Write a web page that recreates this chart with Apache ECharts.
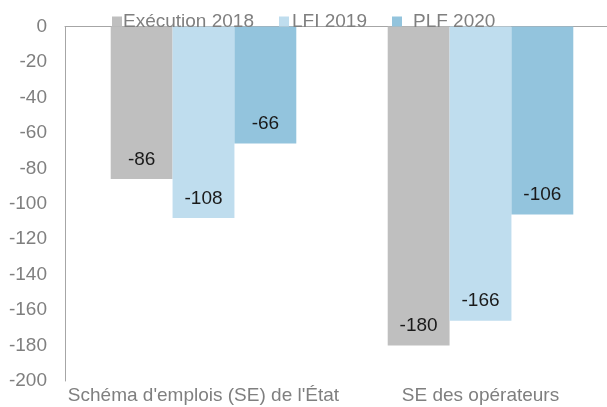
<!DOCTYPE html>
<html>
<head>
<meta charset="utf-8">
<script src="https://cdn.jsdelivr.net/npm/echarts@6/dist/echarts.min.js"></script>
<style>
  html, body { margin: 0; padding: 0; background: #fff; overflow: hidden; }
  /* the plot area runs past the right edge of the original picture */
  #chart { width: 630px; height: 407px; }
</style>
</head>
<body>
<div id="chart"></div>
<script>
const categories = ["Schéma d'emplois (SE) de l'État", 'SE des opérateurs']
const seriesNames = ['Exécution 2018', 'LFI 2019', 'PLF 2020']
const execution2018 = [-86, -180]
const lfi2019 = [-108, -166]
const plf2020 = [-66, -106]
const colors = ['#bfbfbf', '#bfddee', '#93c4dd']

const font = 'Liberation Sans, Arial, sans-serif'

const chart = echarts.init(document.getElementById('chart'))

const makeSeries = (name, data, i) => ({
  name: name,
  type: 'bar',
  data: data,
  barGap: '0%',
  barCategoryGap: '33%',
  itemStyle: {color: colors[i]},
  label: {
    show: true,
    position: 'insideBottom',
    distance: 10,
    color: '#1a1a1a',
    fontFamily: font,
    fontSize: 19,
  },
})

// text offsets from the legend squares differ per item in the original
const legendPad = [-4, -2, 6]

chart.setOption({
  animation: false,
  legend: {
    top: 12,
    left: 112,
    padding: 0,
    itemWidth: 10,
    itemHeight: 10,
    itemGap: 25,
    icon: 'rect',
    textStyle: {color: '#7f7f7f', fontFamily: font, fontSize: 19},
    data: seriesNames.map((n, i) => ({name: n, textStyle: {padding: [0, 0, 0, legendPad[i]]}})),
  },
  grid: {
    top: 26.5,
    bottom: 26,
    left: 65,
    right: 11,
  },
  xAxis: [
    {
      type: 'category',
      data: categories,
      position: 'bottom',
      axisLine: {show: false},
      axisTick: {show: false},
      axisLabel: {interval: 0, color: '#7f7f7f', fontFamily: font, fontSize: 19, margin: 5},
    },
    {
      type: 'category',
      data: categories,
      position: 'top',
      axisLine: {show: true, lineStyle: {color: '#a6a6a6', width: 1}},
      axisTick: {show: false},
      axisLabel: {show: false},
    },
  ],
  yAxis: {
    type: 'value',
    min: -200,
    max: 0,
    interval: 20,
    axisLine: {show: true, lineStyle: {color: '#a6a6a6', width: 1}},
    axisTick: {show: false},
    splitLine: {show: false},
    axisLabel: {color: '#7f7f7f', fontFamily: font, fontSize: 19, margin: 18},
  },
  series: [
    makeSeries(seriesNames[0], execution2018, 0),
    makeSeries(seriesNames[1], lfi2019, 1),
    makeSeries(seriesNames[2], plf2020, 2),
  ],
})
</script>
</body>
</html>
